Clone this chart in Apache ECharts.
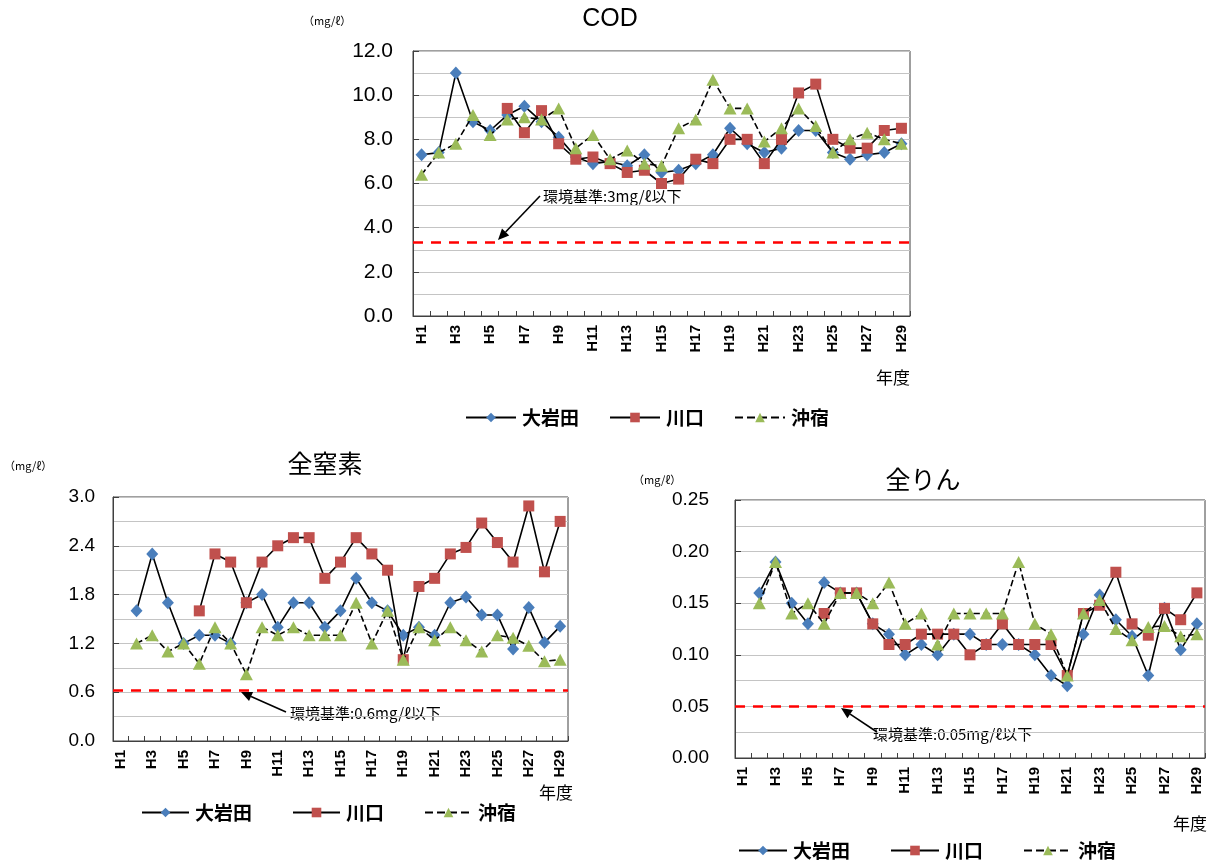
<!DOCTYPE html>
<html><head><meta charset="utf-8">
<script src="https://cdn.jsdelivr.net/npm/echarts@6/dist/echarts.min.js"></script>
<style>html,body{margin:0;padding:0;background:#fff}#c{width:1218px;height:860px}</style>
</head><body><div id="c"></div>
<script>
const years = ['H1','H2','H3','H4','H5','H6','H7','H8','H9','H10','H11','H12','H13','H14','H15','H16','H17','H18','H19','H20','H21','H22','H23','H24','H25','H26','H27','H28','H29'];
const seriesNames = ['大岩田','川口','沖宿'];

const codOiwata    = [7.3,7.4,11.0,8.8,8.4,9.1,9.5,8.8,8.1,7.2,6.9,7.0,6.8,7.3,6.5,6.6,6.9,7.3,8.5,7.8,7.4,7.6,8.4,8.4,7.4,7.1,7.3,7.4,7.8];
const codKawaguchi = [null,null,null,null,null,9.4,8.3,9.3,7.8,7.1,7.2,6.9,6.5,6.6,6.0,6.2,7.1,6.9,8.0,8.0,6.9,8.0,10.1,10.5,8.0,7.6,7.6,8.4,8.5];
const codOkijuku   = [6.4,7.4,7.8,9.1,8.2,8.9,9.0,8.9,9.4,7.6,8.2,7.1,7.5,6.9,6.8,8.5,8.9,10.7,9.4,9.4,7.9,8.5,9.4,8.6,7.4,8.0,8.3,8.0,7.8];

const tnOiwata    = [null,1.6,2.3,1.7,1.2,1.3,1.3,1.2,1.7,1.8,1.4,1.7,1.7,1.4,1.6,2.0,1.7,1.6,1.3,1.4,1.3,1.7,1.77,1.55,1.55,1.13,1.64,1.21,1.41];
const tnKawaguchi = [null,null,null,null,null,1.6,2.3,2.2,1.7,2.2,2.4,2.5,2.5,2.0,2.2,2.5,2.3,2.1,1.0,1.9,2.0,2.3,2.38,2.68,2.44,2.2,2.89,2.08,2.7];
const tnOkijuku   = [null,1.2,1.3,1.1,1.2,0.95,1.4,1.2,0.82,1.4,1.3,1.4,1.3,1.3,1.3,1.7,1.2,1.6,1.0,1.4,1.24,1.4,1.24,1.1,1.3,1.27,1.17,0.98,1.0];

const tpOiwata    = [null,0.16,0.19,0.15,0.13,0.17,0.16,0.16,0.13,0.12,0.10,0.11,0.10,0.12,0.12,0.11,0.11,0.11,0.10,0.08,0.07,0.12,0.158,0.134,0.118,0.08,0.145,0.105,0.13];
const tpKawaguchi = [null,null,null,null,null,0.14,0.16,0.16,0.13,0.11,0.11,0.12,0.12,0.12,0.10,0.11,0.13,0.11,0.11,0.11,0.08,0.14,0.148,0.18,0.13,0.119,0.145,0.134,0.16];
const tpOkijuku   = [null,0.15,0.19,0.14,0.15,0.13,0.16,0.16,0.15,0.17,0.13,0.14,0.11,0.14,0.14,0.14,0.14,0.19,0.13,0.12,0.08,0.14,0.153,0.125,0.114,0.127,0.128,0.118,0.12];

const codStandard = 3.35;
const tnStandard = 0.62;
const tpStandard = 0.05;

const chartTitles = ['COD','全窒素','全りん'];
const unitLabel = '（mg/ℓ）';
const xName = '年度';
const annoTexts = ['環境基準:3mg/ℓ以下','環境基準:0.6mg/ℓ以下','環境基準:0.05mg/ℓ以下'];

const FONT = '"Liberation Sans", Arial, sans-serif';
const JFONT = '"Noto Sans CJK JP", sans-serif';
const colors = ['#4a7ebb','#c0504d','#9bbb59'];

const grids = [
  {left:413, top:51, width:497, height:265},
  {left:113, top:497, width:455, height:244},
  {left:735, top:500, width:470, height:258}
];
const yCfg = [
  {max:12, interval:2, dec:1, size:21, margin:20},
  {max:3.0, interval:0.6, dec:1, size:19, margin:18},
  {max:0.25, interval:0.05, dec:2, size:19, margin:26}
];
const dataSets = [
  [codOiwata, codKawaguchi, codOkijuku],
  [tnOiwata, tnKawaguchi, tnOkijuku],
  [tpOiwata, tpKawaguchi, tpOkijuku]
];
const standards = [codStandard, tnStandard, tpStandard];

const titleStyle = {fontFamily:JFONT, fontSize:25, fontWeight:'normal', color:'#000'};
const option = {
  animation:false,
  backgroundColor:'#fff',
  title: [
    {text:chartTitles[0], left:605, top:2, textAlign:'center', textStyle:Object.assign({}, titleStyle, {fontFamily:FONT, fontSize:25})},
    {text:chartTitles[1], left:320, top:446, textAlign:'center', textStyle:titleStyle},
    {text:chartTitles[2], left:918, top:462, textAlign:'center', textStyle:titleStyle}
  ],
  grid: grids.map(g => Object.assign({show:true, borderColor:'#404040', borderWidth:1, containLabel:false}, g)),
  legend: [
    {left:460, top:403, itemGap:30, itemWidth:50},
    {left:136, top:798, itemGap:40, itemWidth:47},
    {left:733, top:836, itemGap:40, itemWidth:48}
  ].map(p => Object.assign({
    data: seriesNames, itemHeight:12, selectedMode:false,
    textStyle:{fontFamily:JFONT, fontSize:19, fontWeight:'bold', color:'#000', padding:[0,0,0,1]}
  }, p)),
  xAxis: grids.map((g,i) => ({
    type:'category', gridIndex:i, data:years, boundaryGap:true,
    axisLine:{show:true, lineStyle:{color:'#404040'}},
    axisTick:{show:true, inside:true, length:5, interval:0, lineStyle:{color:'#404040'}},
    axisLabel:{interval:1, rotate:90, margin:9, fontFamily:FONT, fontSize:15, fontWeight:'bold', color:'#000'},
    splitLine:{show:false}
  })),
  yAxis: yCfg.map((c,i) => ({
    type:'value', gridIndex:i, min:0, max:c.max, interval:c.interval,
    axisLine:{show:true, lineStyle:{color:'#404040'}},
    axisTick:{show:true, inside:true, length:6, lineStyle:{color:'#404040'}},
    axisLabel:{margin:c.margin, fontFamily:FONT, fontSize:c.size, color:'#000', formatter:v => v.toFixed(c.dec)},
    splitLine:{show:true, lineStyle:{color:'#c4c4c4', width:1.2}},
    minorTick:{show:false, splitNumber:2},
    minorSplitLine:{show:true, lineStyle:{color:'#c4c4c4', width:1.2}}
  })),
  series: [],
  graphic: []
};

dataSets.forEach((ds, gi) => {
  const symbols = ['diamond','rect','triangle'];
  const sizes = [[12,13],[11,11],[13,12]];
  const lineTypes = ['solid','solid','dashed'];
  ds.forEach((arr, si) => {
    const s = {
      name: seriesNames[si], type:'line', xAxisIndex:gi, yAxisIndex:gi,
      data: arr, connectNulls:false,
      symbol: symbols[si], symbolSize: sizes[si], showAllSymbol:true,
      lineStyle:{color:'#000', width:1.6, type:lineTypes[si]},
      itemStyle:{color:colors[si]},
      z: 3+si
    };
    if (si === 0) {
      s.markLine = {
        silent:true, symbol:['none','none'], label:{show:false},
        lineStyle:{color:'#ff0000', width:2.5, type:[10,8]},
        data:[{yAxis:standards[gi]}]
      };
    }
    option.series.push(s);
  });
});

const smallUnit = {fontFamily:JFONT, fontSize:11, fill:'#000'};
option.graphic = [
  {type:'text', left:303, top:15, style:Object.assign({text:unitLabel}, smallUnit)},
  {type:'text', left:4, top:460, style:Object.assign({text:unitLabel}, smallUnit)},
  {type:'text', left:633, top:474, style:Object.assign({text:unitLabel}, smallUnit)},
  {type:'text', left:876, top:369, style:{text:xName, fontFamily:JFONT, fontSize:17, fill:'#000'}},
  {type:'text', left:539, top:784, style:{text:xName, fontFamily:JFONT, fontSize:17, fill:'#000'}},
  {type:'text', left:1173, top:815, style:{text:xName, fontFamily:JFONT, fontSize:17, fill:'#000'}},
  {type:'text', left:543, top:189, style:{text:annoTexts[0], fontFamily:JFONT, fontSize:15, fill:'#000'}},
  {type:'text', left:290, top:706, style:{text:annoTexts[1], fontFamily:JFONT, fontSize:15, fill:'#000'}},
  {type:'text', left:873, top:727, style:{text:annoTexts[2], fontFamily:JFONT, fontSize:15, fill:'#000'}}
];
function arrow(x1,y1,x2,y2){
  const a = Math.atan2(y2-y1, x2-x1), L=11, W=5;
  const bx = x2 - L*Math.cos(a), by = y2 - L*Math.sin(a);
  const px = -Math.sin(a)*W, py = Math.cos(a)*W;
  option.graphic.push({type:'line', shape:{x1:x1,y1:y1,x2:bx,y2:by}, style:{stroke:'#000', lineWidth:1.6}, z:100});
  option.graphic.push({type:'polygon', shape:{points:[[x2,y2],[bx+px,by+py],[bx-px,by-py]]}, style:{fill:'#000'}, z:100});
}
arrow(540,196,498,240);
arrow(286,712,241,692);
arrow(877,732,841,708);

const chart = echarts.init(document.getElementById('c'), null, {renderer:'canvas'});
chart.setOption(option);
</script></body></html>
